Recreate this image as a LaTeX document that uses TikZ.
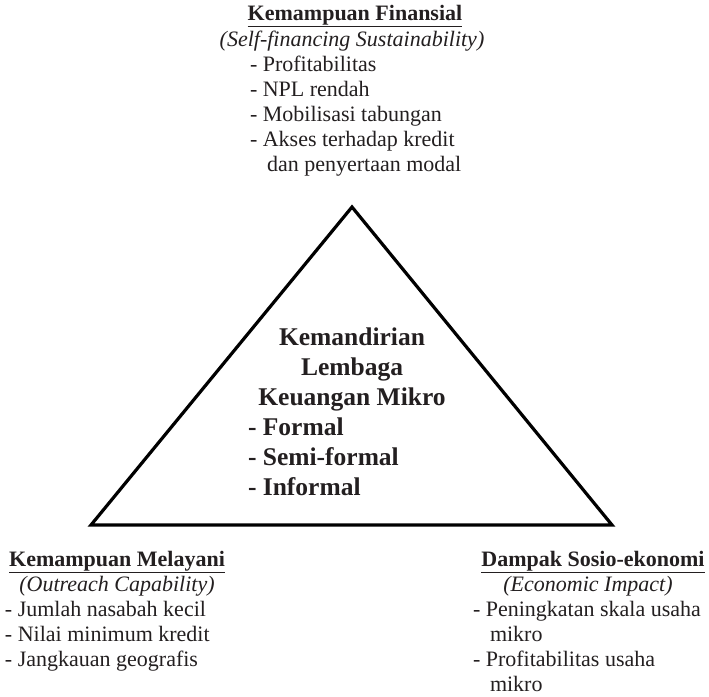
\documentclass[tikz,border=0pt]{standalone}
\usepackage{fontspec}
\setmainfont{Liberation Serif}
\definecolor{ink}{HTML}{231F20}
\tikzset{
  txt/.style={inner sep=0pt, outer sep=0pt, text=ink, font=\fontsize{22}{25}\selectfont},
  ttl/.style={txt, font=\fontsize{22}{25}\selectfont\bfseries},
  ctr/.style={inner sep=0pt, outer sep=0pt, text=ink, font=\fontsize{25.5}{30}\selectfont\bfseries},
  tri/.style={draw=black, line width=3.2pt, line join=miter}
}
\begin{document}
\begin{tikzpicture}[x=1pt,y=-1pt]
\useasboundingbox (0,0) rectangle (709,696);
% triangle
\coordinate (apex) at (352,207);
\coordinate (bl) at (91,525);
\coordinate (br) at (612,525);
\draw[tri] (apex) -- (br) -- (bl) -- cycle;
% top block
\node[ttl, anchor=base] (t1) at (355,20) {\underline{Kemampuan Finansial}};
\node[txt, anchor=base] (t2) at (352,46) {\itshape (Self-financing Sustainability)};
\node[txt, anchor=base west] (t3) at (250,71) {- Profitabilitas};
\node[txt, anchor=base west] (t4) at (250,96) {- NPL rendah};
\node[txt, anchor=base west] (t5) at (250,121) {- Mobilisasi tabungan};
\node[txt, anchor=base west] (t6) at (250,146) {- Akses terhadap kredit};
\node[txt, anchor=base west] (t7) at (267,171) {dan penyertaan modal};
% center block
\node[ctr, anchor=base] (c1) at (352,345) {Kemandirian};
\node[ctr, anchor=base] (c2) at (352,375) {Lembaga};
\node[ctr, anchor=base] (c3) at (352,405) {Keuangan Mikro};
\node[ctr, anchor=base west] (c4) at (248,435) {- Formal};
\node[ctr, anchor=base west] (c5) at (248,465) {- Semi-formal};
\node[ctr, anchor=base west] (c6) at (248,495) {- Informal};
% left block
\node[ttl, anchor=base] (l1) at (117,566) {\underline{Kemampuan Melayani}};
\node[txt, anchor=base] (l2) at (117,591) {\itshape (Outreach Capability)};
\node[txt, anchor=base west] (l3) at (5,616) {- Jumlah nasabah kecil};
\node[txt, anchor=base west] (l4) at (5,641) {- Nilai minimum kredit};
\node[txt, anchor=base west] (l5) at (5,666) {- Jangkauan geografis};
% right block
\node[ttl, anchor=base] (r1) at (593,566) {\underline{Dampak Sosio-ekonomi}};
\node[txt, anchor=base] (r2) at (588,591) {\itshape (Economic Impact)};
\node[txt, anchor=base west] (r3) at (473,616) {- Peningkatan skala usaha};
\node[txt, anchor=base west] (r4) at (490,641) {mikro};
\node[txt, anchor=base west] (r5) at (473,666) {- Profitabilitas usaha};
\node[txt, anchor=base west] (r6) at (490,691) {mikro};
\end{tikzpicture}
\end{document}
